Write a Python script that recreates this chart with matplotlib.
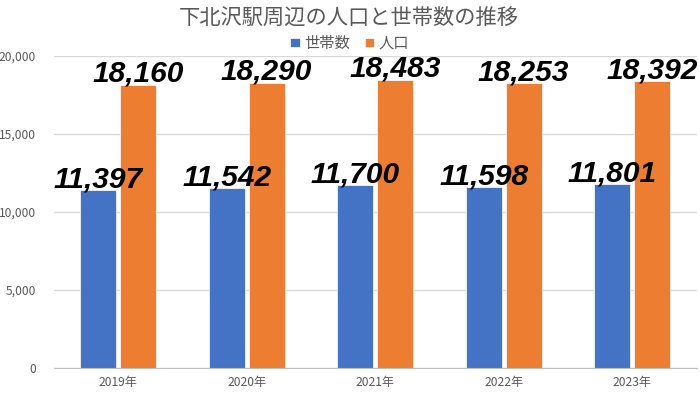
import matplotlib
matplotlib.use("Agg")
import matplotlib.pyplot as plt
import numpy as np

plt.rcParams['font.family'] = ['Noto Sans CJK JP', 'DejaVu Sans']

years = ["2019年", "2020年", "2021年", "2022年", "2023年"]
households = [11397, 11542, 11700, 11598, 11801]
population = [18160, 18290, 18483, 18253, 18392]

blue = "#4472C4"
orange = "#ED7D31"
gray = "#595959"

fig = plt.figure(figsize=(7, 3.94), dpi=100)
ax = fig.add_axes([0.077, 0.066, 0.918, 0.792])

x = np.arange(len(years))
w = 0.28
off = 0.155
b1 = ax.bar(x - off, households, w, color=blue, edgecolor="white", linewidth=0.5, label="世帯数", zorder=2)
b2 = ax.bar(x + off, population, w, color=orange, edgecolor="white", linewidth=0.5, label="人口", zorder=2)

for bars, vals in ((b1, households), (b2, population)):
    for r, v in zip(bars, vals):
        ax.annotate(f"{v:,}", (r.get_x() + r.get_width() / 2, v), xytext=(0, 2),
                    textcoords="offset points", ha="center", va="baseline",
                    fontsize=21.5, fontweight="bold", fontstyle="italic",
                    family="Liberation Sans", color="black", zorder=5)

ax.set_xlim(-0.5, len(years) - 0.5)
ax.set_ylim(0, 20000)
ax.set_yticks(range(0, 20001, 5000))
ax.yaxis.set_major_formatter(matplotlib.ticker.FuncFormatter(lambda v, p: f"{int(v):,}"))
ax.set_xticks(x)
ax.set_xticklabels(years)
ax.tick_params(axis="both", length=0, labelsize=8.7, labelcolor=gray)
ax.tick_params(axis="y", pad=13)
ax.tick_params(axis="x", pad=6)
ax.grid(axis="y", color="#D9D9D9", linewidth=1, zorder=0)
for s in ("top", "right", "left"):
    ax.spines[s].set_visible(False)
ax.spines["bottom"].set_color("#BFBFBF")
ax.spines["bottom"].set_zorder(3)

fig.text(0.499, 0.952, "下北沢駅周辺の人口と世帯数の推移", ha="center", va="center",
         fontsize=15.3, color=gray)
fig.legend(loc="center", bbox_to_anchor=(0.5, 0.89), ncol=2, frameon=False,
           fontsize=11, labelcolor=gray, handlelength=0.6, handleheight=0.6,
           handletextpad=0.3, columnspacing=1.0, borderpad=0)

fig.savefig("out.png", dpi=100, facecolor="white")
